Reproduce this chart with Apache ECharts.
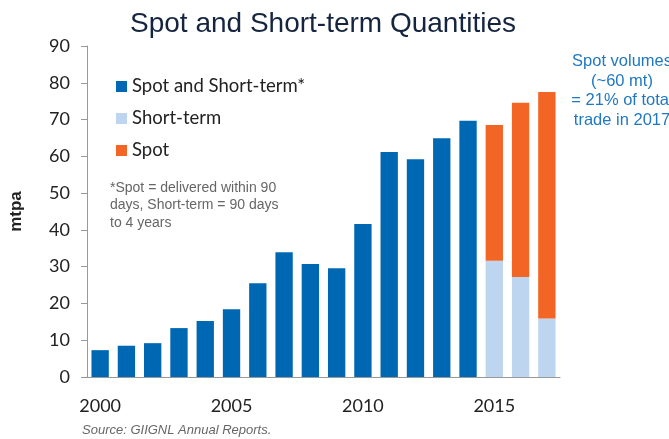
<!DOCTYPE html>
<html>
<head>
<meta charset="utf-8">
<script src="https://cdn.jsdelivr.net/npm/echarts@6/dist/echarts.min.js"></script>
<style>
  html, body { margin: 0; padding: 0; background: #fff; }
  #chart { width: 669px; height: 439px; }
</style>
</head>
<body>
<div id="chart"></div>
<script>
var years = ['2000', '2001', '2002', '2003', '2004', '2005', '2006', '2007', '2008',
  '2009', '2010', '2011', '2012', '2013', '2014', '2015', '2016', '2017'];
var spotAndShort = [7.3, 8.5, 9.2, 13.3, 15.2, 18.4, 25.5, 33.9, 30.7,
  29.6, 41.6, 61.2, 59.2, 64.9, 69.7, '-', '-', '-'];
var shortTerm = ['-', '-', '-', '-', '-', '-', '-', '-', '-',
  '-', '-', '-', '-', '-', '-', 31.6, 27.2, 15.9];
var spot = ['-', '-', '-', '-', '-', '-', '-', '-', '-',
  '-', '-', '-', '-', '-', '-', 36.9, 47.4, 61.6];

var chart = echarts.init(document.getElementById('chart'));
var option = {
  animation: false,
  title: {
    text: 'Spot and Short-term Quantities',
    left: 318,
    textAlign: 'center',
    top: 5,
    textStyle: { fontFamily: 'Liberation Sans', fontWeight: 'normal', fontSize: 28, color: '#15253f' }
  },
  legend: {
    orient: 'vertical',
    left: 111,
    top: 72,
    icon: 'rect',
    itemWidth: 11,
    itemHeight: 11,
    itemGap: 13,
    textStyle: { fontFamily: 'Lato', fontSize: 18.5, color: '#222' },
    data: ['Spot and Short-term*', 'Short-term', 'Spot']
  },
  grid: { left: 82, right: 109, top: 46, bottom: 62 },
  xAxis: {
    type: 'category',
    data: years,
    axisLine: { lineStyle: { color: '#999' } },
    axisTick: { show: false },
    axisLabel: { interval: 4, margin: 20, fontFamily: 'Lato', fontSize: 18, color: '#222' }
  },
  yAxis: {
    type: 'value',
    min: 0,
    max: 90,
    interval: 10,
    name: 'mtpa',
    nameLocation: 'middle',
    nameRotate: 90,
    nameGap: 62,
    nameTextStyle: { fontFamily: 'Liberation Sans', fontWeight: 'bold', fontSize: 17, color: '#222' },
    axisLine: { show: true, lineStyle: { color: '#999' } },
    axisTick: { show: true, length: 6, lineStyle: { color: '#999' } },
    splitLine: { show: false },
    axisLabel: { margin: 17, fontFamily: 'Lato', fontSize: 18, color: '#222' }
  },
  series: [
    { name: 'Spot and Short-term*', type: 'bar', stack: 'total', barCategoryGap: '34%',
      itemStyle: { color: '#0068b3' }, data: spotAndShort },
    { name: 'Short-term', type: 'bar', stack: 'total',
      itemStyle: { color: '#bdd5ee' }, data: shortTerm },
    { name: 'Spot', type: 'bar', stack: 'total',
      itemStyle: { color: '#f26524' }, data: spot }
  ],
  graphic: [
    { type: 'text', left: 110, top: 179,
      style: { text: '*Spot = delivered within 90\ndays, Short-term = 90 days\nto 4 years',
        fontFamily: 'Liberation Sans', fontSize: 14, lineHeight: 17.5, fill: '#666' } },
    { type: 'text', x: 622, y: 52,
      style: { text: 'Spot volumes\n(~60 mt)\n= 21% of total\ntrade in 2017', align: 'center',
        fontFamily: 'Liberation Sans', fontSize: 16.5, lineHeight: 19.5, fill: '#1f78c1' } },
    { type: 'text', left: 82, top: 424,
      style: { text: 'Source: GIIGNL Annual Reports.', fontFamily: 'Liberation Sans',
        fontStyle: 'italic', fontSize: 13, fill: '#666' } }
  ]
};
chart.setOption(option);
</script>
</body>
</html>
